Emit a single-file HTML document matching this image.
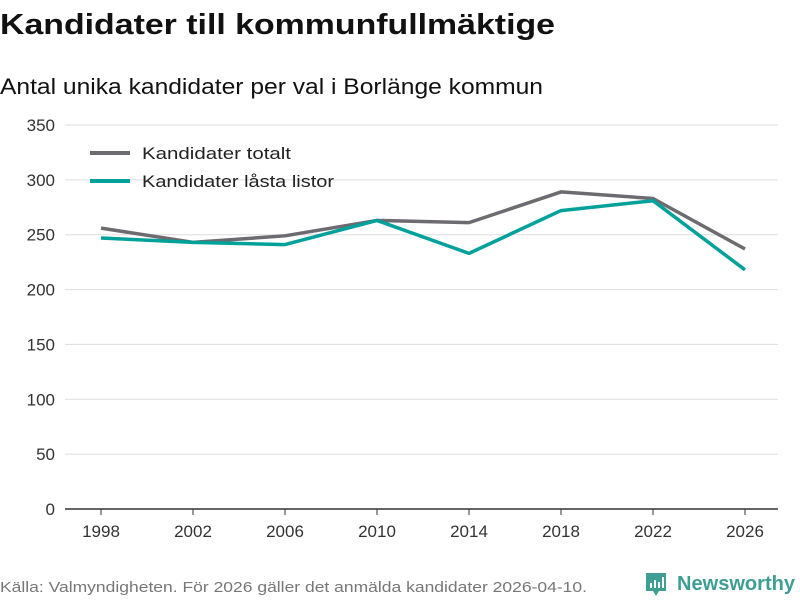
<!DOCTYPE html>
<html><head><meta charset="utf-8"><style>
body{margin:0;background:#fff;font-family:"Liberation Sans",sans-serif;}
#wrap{position:relative;width:800px;height:600px;overflow:hidden;}
</style></head><body>
<div id="wrap">
<svg id="chart" width="800" height="600" xmlns="http://www.w3.org/2000/svg">
<text x="0" y="34" font-size="29" font-weight="bold" fill="#111" textLength="555" lengthAdjust="spacingAndGlyphs">Kandidater till kommunfullmäktige</text>
<text x="0" y="94" font-size="22" fill="#111" textLength="543" lengthAdjust="spacingAndGlyphs">Antal unika kandidater per val i Borlänge kommun</text>
<g id="grid"></g><g id="series"></g>
<g>
<line x1="90" y1="153" x2="130" y2="153" stroke="#6d6a70" stroke-width="4"/>
<text x="142" y="159" font-size="17" fill="#222" textLength="149" lengthAdjust="spacingAndGlyphs">Kandidater totalt</text>
<line x1="90" y1="181" x2="130" y2="181" stroke="#00a19a" stroke-width="4"/>
<text x="142" y="187" font-size="17" fill="#222" textLength="192" lengthAdjust="spacingAndGlyphs">Kandidater låsta listor</text>
</g>
<text x="0" y="592" font-size="15" fill="#777" textLength="587" lengthAdjust="spacingAndGlyphs">Källa: Valmyndigheten. För 2026 gäller det anmälda kandidater 2026-04-10.</text>
<g>
<path d="M646 573h20v18h-7l-3 5-3-5h-7z" fill="#3f9e94"/>
<rect x="650" y="583" width="2" height="5" fill="#fff"/><rect x="654" y="580" width="2" height="8" fill="#fff"/><rect x="658" y="582" width="2" height="6" fill="#fff"/><rect x="662" y="577" width="2" height="11" fill="#fff"/>
<text x="677" y="590" font-size="20" font-weight="bold" fill="#3f9e94" textLength="118" lengthAdjust="spacingAndGlyphs">Newsworthy</text>
</g>
</svg>
</div>
<script>
const years=[1998,2002,2006,2010,2014,2018,2022,2026];
const totalt=[256,243,249,263,261,289,283,237];
const lasta=[247,243,241,263,233,272,281,218];
const yTicks=[0,50,100,150,200,250,300,350];
const NS="http://www.w3.org/2000/svg";
const x=y=>101+(y-1998)*(644/28);
const yS=v=>509-v*(384/350);
const grid=document.getElementById('grid'),ser=document.getElementById('series');
function mk(t,a,p){const e=document.createElementNS(NS,t);for(const k in a)e.setAttribute(k,a[k]);p.appendChild(e);return e;}
yTicks.forEach(v=>{
 const l=mk('line',{x1:65,x2:778,y1:yS(v),y2:yS(v),stroke:v===0?'#333':'#ddd','stroke-width':v===0?1.5:1},grid);
 
 
 const t=mk('text',{x:55,y:yS(v)+6,'text-anchor':'end','font-size':17,fill:'#333'},grid);t.textContent=v;
 
 
});
years.forEach(y=>{
 const l=mk('line',{x1:x(y),x2:x(y),y1:509,y2:515,stroke:'#333'},grid);
 
 
 const t=mk('text',{x:x(y),y:537,'text-anchor':'middle','font-size':17,fill:'#333'},grid);t.textContent=y;
 
 
});
[[totalt,'#6d6a70','line-totalt'],[lasta,'#00a19a','line-lasta']].forEach(([d,c,n])=>{
 const p=mk('polyline',{points:d.map((v,i)=>x(years[i])+','+yS(v)).join(' '),fill:'none',stroke:c,'stroke-width':3.5,'stroke-linejoin':'round'},ser);
 
 
});
</script>
</body></html>
